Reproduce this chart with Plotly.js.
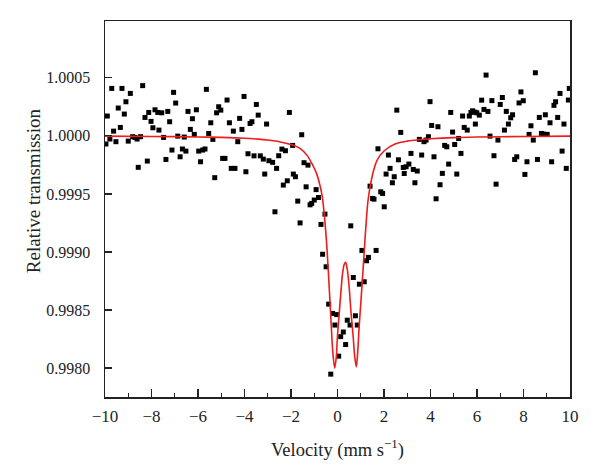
<!DOCTYPE html>
<html>
<head>
<meta charset="utf-8">
<script src="https://cdn.plot.ly/plotly-3.0.1.min.js"></script>
<style>html,body{margin:0;padding:0;background:#fff;}#chart{width:600px;height:476px;}</style>
</head>
<body>
<div id="chart"></div>
<script>
// Measured data: velocity (mm/s)
const velocity = [
-9.96,-9.90,-9.79,-9.71,-9.63,-9.53,-9.43,-9.34,-9.27,-9.17,-9.10,-9.00,-8.91,-8.81,-8.71,-8.62,-8.57,-8.47,-8.38,-8.28,
-8.18,-8.12,-8.02,-7.94,-7.85,-7.73,-7.68,-7.56,-7.48,-7.38,-7.30,-7.22,-7.12,-7.05,-6.96,-6.87,-6.77,-6.67,-6.59,-6.52,
-6.43,-6.33,-6.24,-6.16,-6.07,-5.97,-5.89,-5.80,-5.70,-5.64,-5.54,-5.45,-5.36,-5.28,-5.20,-5.11,-5.02,-4.94,-4.84,-4.75,
-4.65,-4.57,-4.48,-4.41,-4.29,-4.21,-4.11,-4.02,-3.94,-3.85,-3.76,-3.68,-3.59,-3.49,-3.41,-3.32,-3.19,-3.13,-3.05,-2.95,
-2.79,-2.69,-2.62,-2.53,-2.39,-2.33,-2.24,-2.16,-2.07,-1.93,-1.90,-1.81,-1.71,-1.61,-1.54,-1.44,-1.35,-1.27,-1.18,-1.11,
-1.00,-0.92,-0.82,-0.71,-0.64,-0.54,-0.49,-0.38,-0.29,-0.21,-0.11,-0.035,0.05,0.137,0.25,0.35,0.42,0.54,0.57,0.68,
0.77,0.85,0.94,1.05,1.15,1.25,1.33,1.40,1.51,1.57,1.66,1.74,1.86,1.94,2.01,2.09,2.19,2.26,2.36,2.44,
2.55,2.62,2.72,2.83,2.87,2.95,3.07,3.16,3.26,3.33,3.43,3.52,3.62,3.72,3.81,3.91,3.98,4.05,4.15,4.24,
4.32,4.41,4.51,4.61,4.70,4.78,4.87,4.95,5.04,5.13,5.21,5.31,5.38,5.45,5.58,5.67,5.74,5.81,5.91,5.93,
5.99,6.10,6.20,6.30,6.39,6.47,6.56,6.64,6.73,6.82,6.90,7.00,7.09,7.18,7.26,7.35,7.45,7.53,7.62,7.71,
7.81,7.89,7.99,8.06,8.15,8.24,8.32,8.42,8.51,8.60,8.68,8.77,8.85,8.94,9.02,9.14,9.21,9.31,9.38,9.47,
9.57,9.66,9.74,9.84,9.93,9.97
];
// Measured data: relative transmission
const transmission = [
0.999930,1.000171,0.999973,1.000409,1.000041,0.999950,1.000240,1.000073,1.000409,1.000188,1.000294,0.999955,1.000366,0.999993,0.999987,0.999973,0.999729,0.999993,1.000433,1.000159,
0.999783,1.000202,1.000125,1.000070,1.000225,1.000202,1.000050,1.000199,0.999987,0.999797,1.000211,1.000122,0.999878,1.000375,1.000283,0.999998,0.999820,0.999887,0.999990,0.999869,
1.000211,1.000056,1.000148,1.000013,1.000225,0.999869,0.999777,0.999878,0.999887,1.000401,1.000021,1.000113,0.999970,0.999640,1.000199,1.000251,1.000222,0.999806,0.999806,1.000309,
1.000113,0.999720,1.000041,0.999720,0.999950,1.000151,1.000056,1.000340,0.999691,0.999846,1.000107,1.000122,0.999828,1.000271,1.000179,0.999828,0.999800,0.999671,1.000102,0.999786,
0.999772,0.999346,0.999720,0.999829,0.999886,0.999576,0.999872,0.999613,1.000202,0.999918,0.999671,0.999648,0.999438,0.999250,1.000010,0.999769,0.999561,0.999748,0.999406,0.999418,
0.999447,0.999537,0.999469,0.999237,0.998980,0.999326,0.998872,0.998550,0.997947,0.998470,0.998370,0.998460,0.998102,0.998270,0.998310,0.998202,0.998412,0.998370,0.999225,0.998780,
0.998450,0.998370,0.998722,0.999013,0.998743,0.998924,0.998953,0.999567,0.999461,0.999455,0.999013,0.999889,0.999518,0.999504,0.999389,0.999671,0.999835,0.999720,0.999596,0.999648,
1.000222,0.999794,1.000030,0.999728,0.999676,0.999734,0.999757,0.999849,0.999711,0.999596,0.999697,0.999970,0.999835,0.999950,0.999964,0.999993,1.000295,1.000090,0.999820,0.999458,
1.000079,0.999579,0.999677,0.999918,0.999906,0.999757,1.000202,1.000033,0.999926,0.999671,0.999978,0.999849,1.000171,1.000073,1.000050,1.000171,1.000202,1.000216,1.000205,1.000102,
1.000199,1.000179,1.000308,1.000228,1.000524,1.000211,0.999998,1.000304,0.999829,0.999584,0.999964,1.000271,1.000331,1.000050,1.000211,1.000102,1.000156,1.000182,0.999797,0.999820,
1.000284,1.000379,1.000303,0.999668,0.999777,1.000013,1.000087,0.999964,1.000544,0.999797,1.000159,1.000021,1.000016,1.000182,1.000013,1.000113,0.999777,1.000263,1.000294,1.000159,
1.000366,0.999869,1.000102,0.999720,1.000309,1.000409
];
// Fitted curve
const fitVelocity = [-10,-8,-6,-5,-4,-3.4,-3,-2.5,-2,-1.6,-1.3,-1.1,-0.9,-0.75,-0.65,-0.55,-0.45,-0.35,-0.27,-0.2,-0.12,-0.05,0,0.07,0.14,0.22,0.3,0.35,0.42,0.5,0.58,0.67,0.74,0.81,0.87,0.93,1.01,1.1,1.2,1.3,1.4,1.55,1.7,2,2.5,3,3.5,4,5,6,8,10];
const fitTransmission = [0.999998,0.999995,0.999991,0.999987,0.999980,0.999972,0.999964,0.999950,0.999925,0.999890,0.999830,0.999760,0.999675,0.999570,0.999470,0.999280,0.999020,0.998670,0.998370,0.998130,0.998000,0.998100,0.998280,0.998460,0.998640,0.998820,0.998900,0.998910,0.998850,0.998700,0.998480,0.998280,0.998100,0.998010,0.998140,0.998350,0.998580,0.998850,0.999160,0.999420,0.999560,0.999700,0.999790,0.999870,0.999932,0.999955,0.999967,0.999975,0.999985,0.999990,0.999995,0.999998];

const xTicks = [-10,-8,-6,-4,-2,0,2,4,6,8,10];
const yTicks = [0.9980,0.9985,0.9990,0.9995,1.0000,1.0005];

const font = 'Liberation Serif, Times New Roman, serif';

const traces = [
  {x: velocity, y: transmission, type: 'scatter', mode: 'markers',
   marker: {symbol: 'square', size: 5, color: '#000'}, showlegend: false, hoverinfo: 'x+y'},
  {x: fitVelocity, y: fitTransmission, type: 'scatter', mode: 'lines',
   line: {color: '#ee1c1c', width: 1.6, shape: 'spline', smoothing: 0.8}, showlegend: false}
];

const layout = {
  width: 600, height: 476,
  margin: {l: 105, r: 30, t: 21, b: 79},
  paper_bgcolor: '#fff', plot_bgcolor: '#fff',
  font: {family: font, size: 15, color: '#222'},
  xaxis: {
    range: [-10, 10], tickvals: xTicks, ticktext: xTicks.map(v => String(v).replace('-', '\u2212')),
    tickfont: {family: font, size: 17, color: '#222'},
    ticks: 'inside', ticklen: 8, tickwidth: 1.2, tickcolor: '#222',
    minor: {dtick: 1, ticks: 'inside', ticklen: 4, tickwidth: 1.2, tickcolor: '#222'},
    showline: true, linewidth: 1.5, linecolor: '#222', mirror: true,
    showgrid: false, zeroline: false, ticklabelstandoff: 3,
    title: {text: 'Velocity (mm s<sup>\u22121</sup>)', font: {family: font, size: 18.5, color: '#222'}, standoff: 18}
  },
  yaxis: {
    range: [0.99775, 1.00099], tickvals: yTicks, tickformat: '.4f',
    tickfont: {family: font, size: 16, color: '#222'},
    ticks: 'inside', ticklen: 7, tickwidth: 1.2, tickcolor: '#222',
    showline: true, linewidth: 1.5, linecolor: '#222', mirror: true,
    showgrid: false, zeroline: false, ticklabelstandoff: 10
  },
  annotations: [{
    text: 'Relative transmission', xref: 'paper', yref: 'paper',
    x: -0.155, y: 0.55, xanchor: 'center', yanchor: 'middle', textangle: -90, showarrow: false,
    font: {family: font, size: 19, color: '#222'}
  }]
};

Plotly.newPlot('chart', traces, layout, {displayModeBar: false, staticPlot: true});
</script>
</body>
</html>
